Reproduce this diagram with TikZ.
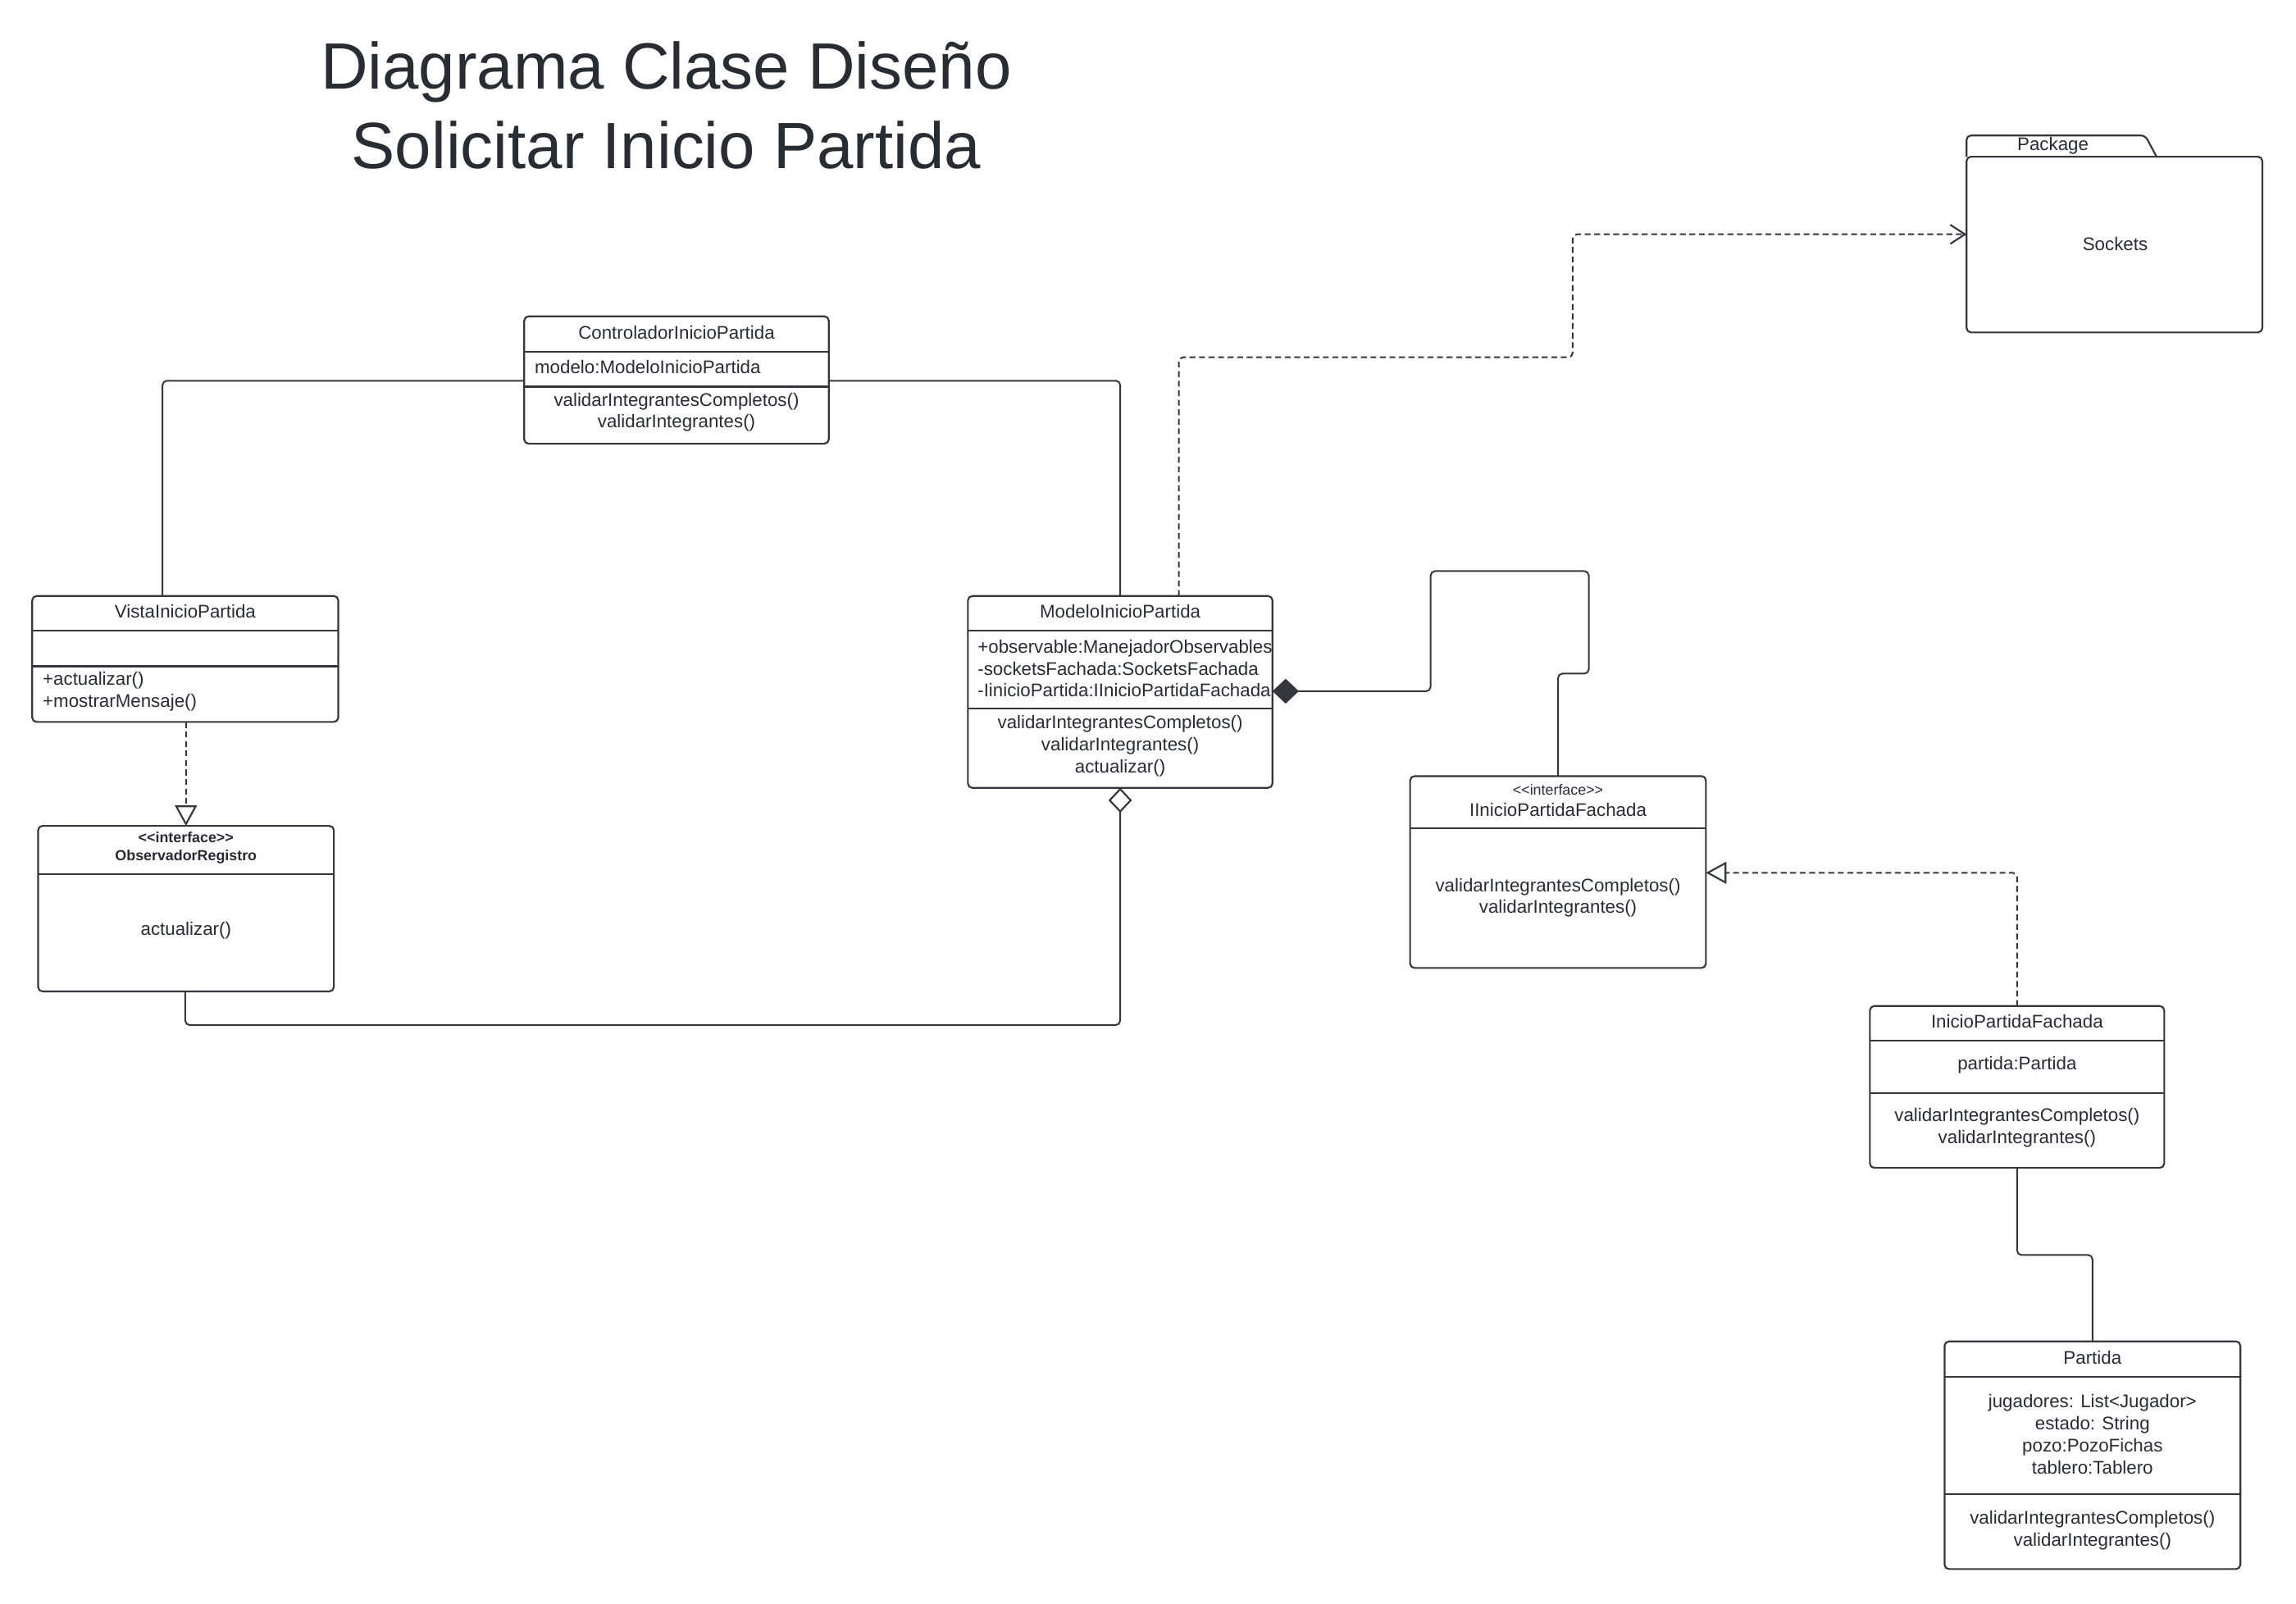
\documentclass[tikz,border=0pt]{standalone}
\usepackage{fontspec}
\setmainfont{Liberation Sans}
\usetikzlibrary{arrows.meta}
\definecolor{ink}{HTML}{282C33}
\definecolor{edge}{HTML}{33363B}
\tikzset{
  cls/.style={draw=edge, line width=1.2pt, rounded corners=3pt, inner sep=0pt, outer sep=0pt, anchor=north west, fill=white},
  div/.style={draw=edge, line width=1.2pt},
  txt/.style={text=ink, inner sep=0pt, font=\fontsize{12.5}{15}\selectfont},
  ctxt/.style={txt, align=center},
  ltxt/.style={txt, align=left, anchor=west},
  conn/.style={draw=edge, line width=1.1pt, rounded corners=3pt},
  dconn/.style={conn, dash pattern=on 4pt off 2.5pt},
  opentri/.style={-{Triangle[open, length=14pt, width=15pt, line width=1.2pt]}},
  opendiam/.style={{Diamond[open, length=17pt, width=16pt, line width=1.2pt]}-},
  filldiam/.style={{Diamond[fill=edge, length=18pt, width=17pt]}-},
  barb/.style={-{Straight Barb[length=10pt, width=13pt, line width=1.2pt]}},
}
\begin{document}
\begin{tikzpicture}[x=1pt, y=-1pt]
\useasboundingbox[fill=white] (0,0) rectangle (1568,1095);

% title
\node[txt, anchor=base, font=\fontsize{44.7}{53}\selectfont] (title1) at (455,61) {Diagrama Clase Diseño};
\node[txt, anchor=base, font=\fontsize{44.7}{53}\selectfont] (title2) at (455,115) {Solicitar Inicio Partida};

% ControladorInicioPartida
\node[cls, minimum width=208pt, minimum height=87pt] (ctrl) at (358,216) {};
\draw[div] (358,240) -- (566,240);
\draw[div] (358,264) -- (566,264);
\node[ctxt] (ctrlt) at (462,227) {ControladorInicioPartida};
\node[ltxt] (ctrla) at (365,250.5) {modelo:ModeloInicioPartida};
\node[ctxt] (ctrlm) at (462,281.5) {validarIntegrantesCompletos()\\validarIntegrantes()};

% VistaInicioPartida
\node[cls, minimum width=209pt, minimum height=86pt] (vista) at (22,407) {};
\draw[div] (22,430.5) -- (231,430.5);
\draw[div] (22,455) -- (231,455);
\node[ctxt] (vistat) at (126.5,417.5) {VistaInicioPartida};
\node[ltxt] (vistam) at (29,472) {+actualizar()\\+mostrarMensaje()};

% ObservadorRegistro
\node[cls, minimum width=202pt, minimum height=113pt] (obs) at (26,564) {};
\draw[div] (26,597) -- (228,597);
\node[txt, align=center, font=\fontsize{10}{12}\bfseries] (obst) at (127,579) {<{}<interface>{}>\\ObservadorRegistro};
\node[ctxt] (obsm) at (127,635.5) {actualizar()};

% ModeloInicioPartida
\node[cls, minimum width=208pt, minimum height=131pt] (modelo) at (661,407) {};
\draw[div] (661,430.5) -- (869,430.5);
\draw[div] (661,484) -- (869,484);
\node[ctxt] (modelot) at (765,417.5) {ModeloInicioPartida};
\node[ltxt] (modeloa) at (667.5,456.5) {+observable:ManejadorObservables\\-socketsFachada:SocketsFachada\\-IinicioPartida:IInicioPartidaFachada};
\node[ctxt] (modelom) at (765,509.5) {validarIntegrantesCompletos()\\validarIntegrantes()\\actualizar()};

% Package Sockets
\node[cls, minimum width=202pt, minimum height=120pt] (pkg) at (1343,107) {};
\draw[div, rounded corners=3pt] (pkg.north west) -- (1343,92.5) -- (1465,92.5) -- (1473,107.5);
\node[ctxt] (pkgt) at (1402,99.5) {Package};
\node[ctxt] (pkgn) at (1444.5,166.5) {Sockets};

% IInicioPartidaFachada
\node[cls, minimum width=202pt, minimum height=131pt] (iinicio) at (963,530) {};
\draw[div] (963,565.5) -- (1165,565.5);
\node[txt, font=\fontsize{10}{12}\selectfont] (iiniciost) at (1064,539.5) {<{}<interface>{}>};
\node[ctxt] (iiniciot) at (1064,553) {IInicioPartidaFachada};
\node[ctxt] (iiniciom) at (1064,613) {validarIntegrantesCompletos()\\validarIntegrantes()};

% InicioPartidaFachada
\node[cls, minimum width=201pt, minimum height=110.5pt] (ipf) at (1277,687) {};
\draw[div] (1277,710.5) -- (1478,710.5);
\node[ctxt] (ipft) at (1377.5,697.5) {InicioPartidaFachada};
\draw[div] (1277,746.5) -- (1478,746.5);
\node[ctxt] (ipfa) at (1377.5,727.5) {partida:Partida};
\node[ctxt] (ipfm) at (1377.5,770) {validarIntegrantesCompletos()\\validarIntegrantes()};

% Partida
\node[cls, minimum width=202pt, minimum height=155.5pt] (partida) at (1328,916) {};
\draw[div] (1328,940) -- (1530,940);
\draw[div] (1328,1020.5) -- (1530,1020.5);
\node[ctxt] (partidat) at (1429,927) {Partida};
\node[txt, align=center, font=\fontsize{12.5}{15.1}\selectfont] (partidaa) at (1429,979.5) {jugadores: List<Jugador>\\estado: String\\pozo:PozoFichas\\tablero:Tablero};
\node[ctxt] (partidam) at (1429,1045) {validarIntegrantesCompletos()\\validarIntegrantes()};

% connector bend points
\coordinate (b1) at (111,260);
\coordinate (b2) at (765,260);
\coordinate (b3) at (126.5,700);
\coordinate (b4) at (765,700);
\coordinate (b5) at (977,472);
\coordinate (b6) at (977,390);
\coordinate (b7) at (1085,390);
\coordinate (b8) at (1085,460);
\coordinate (b9) at (1064,460);
\coordinate (b10) at (805,244);
\coordinate (b11) at (1074,244);
\coordinate (b12) at (1074,160);
\coordinate (b13) at (1377.5,596);
\coordinate (b14) at (1377.5,857);
\coordinate (b15) at (1429,857);

% connectors
\draw[conn] (ctrl.west |- b1) -- (b1) -- (vista.north -| b1);
\draw[conn] (ctrl.east |- b2) -- (b2) -- (modelo.north -| b2);
\draw[dconn, opentri] (vista.south -| obs.north) -- (obs.north);
\draw[conn, opendiam] (modelo.south -| b4) -- (b4) -- (b3) -- (obs.south -| b3);
\draw[conn, filldiam] (modelo.east |- b5) -- (b5) -- (b6) -- (b7) -- (b8) -- (b9) -- (iinicio.north -| b9);
\draw[dconn, barb] (modelo.north -| b10) -- (b10) -- (b11) -- (b12) -- (pkg.west |- b12);
\draw[dconn, opentri] (ipf.north -| b13) -- (b13) -- (iinicio.east |- b13);
\draw[conn] (ipf.south -| b14) -- (b14) -- (b15) -- (partida.north -| b15);
\end{tikzpicture}
\end{document}
